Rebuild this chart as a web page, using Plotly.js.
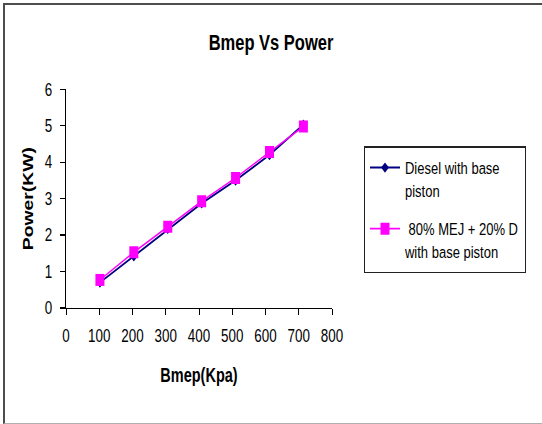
<!DOCTYPE html>
<html>
<head>
<meta charset="utf-8">
<script src="https://cdn.plot.ly/plotly-3.0.1.min.js"></script>
<style>
  html, body { margin: 0; padding: 0; background: #fff; }
  #wrap { position: absolute; left: 0; top: 0; width: 542px; height: 424px; overflow: hidden; }
  /* chart is laid out at 542x318 and stretched vertically to fill the frame */
  #chart { width: 542px; height: 318px; transform: scaleY(1.33333); transform-origin: 0 0; }
  #frame { position: absolute; left: 3px; top: 3px; width: 539px; height: 418px;
           border-top: 2px solid #4d4d4d; border-left: 2px solid #4d4d4d; border-bottom: 1px solid #b0b0b0;
           pointer-events: none; }
</style>
</head>
<body>
<div id="wrap">
  <div id="chart"></div>
  <div id="frame"></div>
</div>
<script>
// Brake mean effective pressure (kPa)
const bmep = [102, 204, 306, 408, 510, 612, 714];
// Power output (kW) for each fuel
const powerDiesel = [0.70, 1.42, 2.17, 2.87, 3.50, 4.20, 5.03];
const powerBlend  = [0.77, 1.53, 2.23, 2.93, 3.57, 4.28, 4.98];
const seriesNames = ['Diesel with base<br>piston', ' 80% MEJ + 20% D<br>with base piston'];
const xTicks = [0, 100, 200, 300, 400, 500, 600, 700, 800];
const yTicks = [0, 1, 2, 3, 4, 5, 6];

const FONT = 'Liberation Sans, Arial, sans-serif';

const traces = [
  {
    x: bmep, y: powerDiesel, name: seriesNames[0], legendgroup: 'diesel',
    type: 'scatter', mode: 'lines+markers',
    line: { color: '#000080', width: 1.5 },
    marker: { symbol: 'diamond', size: 6, color: '#000080' }
  },
  {
    x: bmep, y: powerBlend, name: seriesNames[1], legendgroup: 'blend',
    type: 'scatter', mode: 'lines+markers',
    line: { color: '#ff00ff', width: 1.2 },
    marker: { symbol: 'square', size: 9, color: '#ff00ff' }
  }
];

const layout = {
  width: 542, height: 318,
  margin: { l: 66, r: 210, t: 67, b: 87, pad: 0 },
  paper_bgcolor: '#ffffff', plot_bgcolor: '#ffffff',
  font: { family: FONT, color: '#000', size: 13.4 },
  showlegend: true,
  title: {
    text: 'Bmep Vs Power',
    font: { family: FONT, size: 16.5, weight: 'bold', color: '#000' },
    x: 0.5, xref: 'container', xanchor: 'center',
    y: 1 - 31.5 / 318, yref: 'container', yanchor: 'middle'
  },
  xaxis: {
    range: [0, 800], tickvals: xTicks, ticktext: xTicks.map(String),
    showgrid: false, zeroline: false, showline: true, linecolor: '#000', linewidth: 1,
    ticks: 'outside', ticklen: 4.5, tickcolor: '#000', tickwidth: 1,
    ticklabelstandoff: 4,
    tickfont: { family: FONT, size: 13.4, color: '#000' },
    title: { text: 'Bmep(Kpa)', font: { family: FONT, size: 14.5, weight: 'bold', color: '#000' }, standoff: 17 }
  },
  yaxis: {
    range: [0, 6], tickvals: yTicks, ticktext: yTicks.map(String),
    showgrid: false, zeroline: false, showline: true, linecolor: '#000', linewidth: 1,
    ticks: 'outside', ticklen: 5, tickcolor: '#000', tickwidth: 1,
    ticklabelstandoff: 5,
    tickfont: { family: FONT, size: 13.4, color: '#000' },
    title: { text: 'Power(KW)', font: { family: FONT, size: 14.5, weight: 'bold', color: '#000' }, standoff: 7 }
  },
  legend: {
    x: (364 - 66) / 266, xanchor: 'left',
    y: 0.7394, yanchor: 'top',
    bgcolor: '#ffffff', bordercolor: '#222', borderwidth: 1,
    font: { family: FONT, size: 13, color: '#000' },
    valign: 'top', tracegroupgap: 9
  }
};

Plotly.newPlot('chart', traces, layout, { displayModeBar: false, staticPlot: true });
</script>
</body>
</html>
